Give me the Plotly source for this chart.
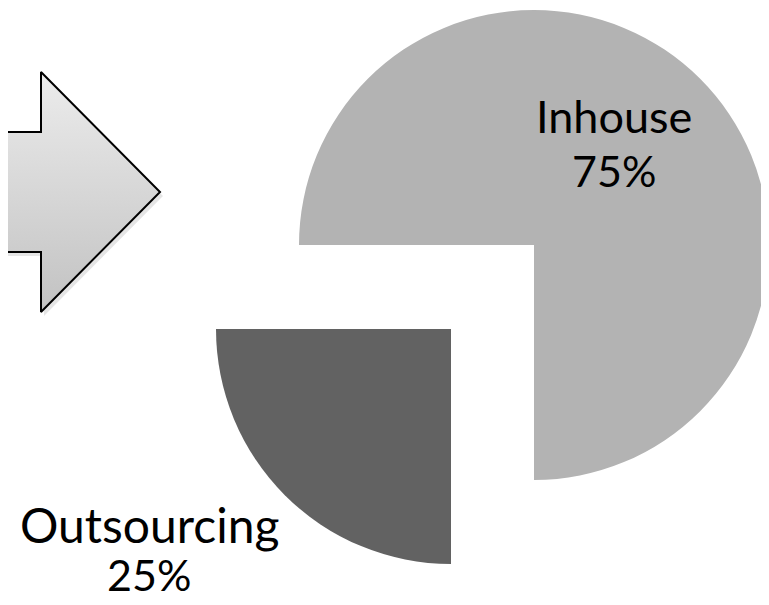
import plotly.graph_objects as go

# ---- data ----
labels = ["Inhouse", "Outsourcing"]
values = [75, 25]
colors = ["#b3b3b3", "#626262"]

# page is rendered with the browser's default 8px body margin;
# figure is sized so that it ends exactly at the window edge
W, H, OFF = 769, 605, 8
FW, FH = W - OFF, H - OFF

fig = go.Figure()

# decorative block arrow (page-pixel coordinates on hidden axes)
arrow_x = [-5, 41, 41, 160, 41, 41, -5, -5]
arrow_y = [132, 132, 72, 192, 312, 252, 252, 132]
fig.add_trace(go.Scatter(
    x=[v + 3 for v in arrow_x], y=[v + 4 for v in arrow_y], mode="lines",
    line=dict(width=0, color="rgba(0,0,0,0)"), fill="toself",
    fillcolor="rgba(0,0,0,0.10)", hoverinfo="skip", showlegend=False))
fig.add_trace(go.Scatter(
    x=arrow_x, y=arrow_y, mode="lines",
    line=dict(width=2, color="#000000"), fill="toself",
    fillgradient=dict(type="vertical", start=72, stop=312,
                      colorscale=[[0, "#ececec"], [1, "#c2c2c2"]]),
    hoverinfo="skip", showlegend=False))

total = sum(values)

def px_domain(cx, cy, r):
    return dict(x=[max(0.0, (cx - r - OFF) / FW), min(1.0, (cx + r - OFF) / FW)],
                y=[max(0.0, 1 - (cy + r - OFF) / FH), min(1.0, 1 - (cy - r - OFF) / FH)])

R = 235
# main pie (Inhouse visible)
fig.add_trace(go.Pie(
    labels=labels, values=values, sort=False, direction="clockwise",
    rotation=270, marker=dict(colors=[colors[0], "rgba(0,0,0,0)"], line=dict(width=0)),
    textinfo="none", hoverinfo="skip", showlegend=False,
    domain=px_domain(534, 245, R)))
# exploded slice (Outsourcing visible)
fig.add_trace(go.Pie(
    labels=labels, values=values, sort=False, direction="clockwise",
    rotation=270, marker=dict(colors=["rgba(0,0,0,0)", colors[1]], line=dict(width=0)),
    textinfo="none", hoverinfo="skip", showlegend=False,
    domain=px_domain(451, 329, R)))

# label positions (x center, y of name line, y of percent line), page pixels
label_pos = [(614, 116, 170), (149, 524, 574)]
name_sizes = [45, 48]
for lab, val, (lx, ly1, ly2), fs in zip(labels, values, label_pos, name_sizes):
    fig.add_annotation(
        x=lx, y=ly1, xref="x", yref="y", text=lab, showarrow=False,
        font=dict(family="Lato", size=fs, color="#000000"),
        xanchor="center", yanchor="middle")
    fig.add_annotation(
        x=lx, y=ly2, xref="x", yref="y", text=f"{round(val / total * 100)}%",
        showarrow=False, font=dict(family="Lato", size=43, color="#000000"),
        xanchor="center", yanchor="middle")

fig.update_layout(
    width=FW, height=FH, margin=dict(l=0, r=0, t=0, b=0),
    paper_bgcolor="white", plot_bgcolor="white",
    xaxis=dict(range=[OFF, W], visible=False, domain=[0, 1], fixedrange=True),
    yaxis=dict(range=[H, OFF], visible=False, domain=[0, 1], fixedrange=True),
    showlegend=False)

fig.write_html("out.html")
